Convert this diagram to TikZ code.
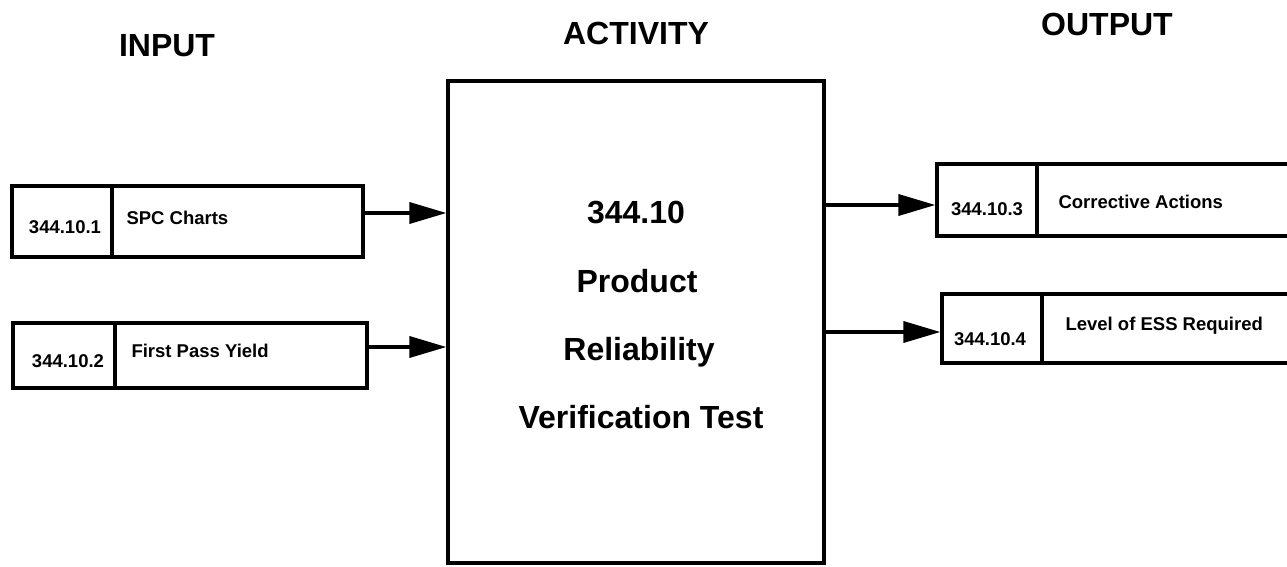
\documentclass[tikz,border=0pt]{standalone}
\usepackage{fontspec}
\setmainfont{Liberation Sans}
\usetikzlibrary{arrows.meta}
\begin{document}
\begin{tikzpicture}[x=1pt,y=-1pt,
  box/.style={draw,line width=3.2pt,inner sep=0pt,outer sep=0pt,anchor=north west},
  num/.style={font=\fontsize{18.5}{20}\selectfont\bfseries,anchor=base},
  lbl/.style={font=\fontsize{18.5}{20}\selectfont\bfseries,anchor=base west},
  head/.style={font=\fontsize{32}{36}\selectfont\bfseries,anchor=base},
  big/.style={font=\fontsize{32}{36}\selectfont\bfseries,anchor=base},
  arr/.style={line width=3.6pt,-{Triangle[length=37pt,width=21pt]}}]
\useasboundingbox (0,0) rectangle (1287,567);
% headings
\node[head] (hin) at (167,57) {INPUT};
\node[head] (hact) at (636,45) {ACTIVITY};
\node[head] (hout) at (1107,36) {OUTPUT};
% main box
\node[box,minimum width=376pt,minimum height=482pt] (main) at (448,81) {};
\node[big] (t1) at (636,223) {344.10};
\node[big] (t2) at (637,292) {Product};
\node[big] (t3) at (639,360) {Reliability};
\node[big] (t4) at (641,428) {Verification Test};
% input boxes
\node[box,minimum width=100pt,minimum height=71pt] (in1n) at (12,186) {};
\node[box,minimum width=251pt,minimum height=71pt] (in1t) at (in1n.north east) {};
\node[num] (in1a) at (65,233) {344.10.1};
\node[lbl] (in1b) at (123,224) {SPC Charts};
\node[box,minimum width=102pt,minimum height=65pt] (in2n) at (13,323) {};
\node[box,minimum width=252pt,minimum height=65pt] (in2t) at (in2n.north east) {};
\node[num] (in2a) at (68,367) {344.10.2};
\node[lbl] (in2b) at (128,357) {First Pass Yield};
% output boxes
\node[box,minimum width=100pt,minimum height=72pt] (out1n) at (937,164) {};
\node[box,minimum width=252pt,minimum height=72pt] (out1t) at (out1n.north east) {};
\node[num] (out1a) at (987,215) {344.10.3};
\node[lbl] (out1b) at (1055,208) {Corrective Actions};
\node[box,minimum width=100pt,minimum height=69pt] (out2n) at (942,294) {};
\node[box,minimum width=247pt,minimum height=69pt] (out2t) at (out2n.north east) {};
\node[num] (out2a) at (990,345) {344.10.4};
\node[lbl] (out2b) at (1062,330) {Level of ESS Required};
% connectors
\coordinate (c1) at (0,213);
\coordinate (c2) at (0,347);
\coordinate (c3) at (0,205);
\coordinate (c4) at (0,332);
\draw[arr] (in1t.east |- c1) -- ([xshift=-1.6pt]main.west |- c1);
\draw[arr] (in2t.east |- c2) -- ([xshift=-1.6pt]main.west |- c2);
\draw[arr] (main.east |- c3) -- ([xshift=-1.6pt]out1n.west |- c3);
\draw[arr] (main.east |- c4) -- ([xshift=-1.6pt]out2n.west |- c4);
\end{tikzpicture}
\end{document}
